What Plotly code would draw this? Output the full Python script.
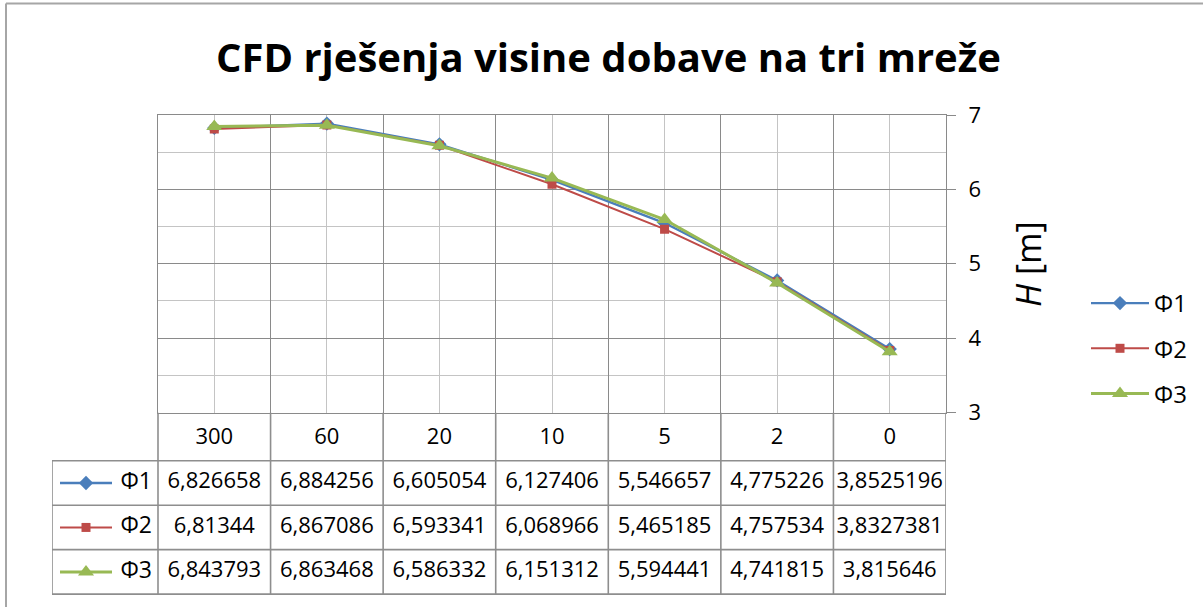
import plotly.graph_objects as go

# ---- data -------------------------------------------------------------
categories = ["300", "60", "20", "10", "5", "2", "0"]
phi1 = [6.826658, 6.884256, 6.605054, 6.127406, 5.546657, 4.775226, 3.8525196]
phi2 = [6.81344, 6.867086, 6.593341, 6.068966, 5.465185, 4.757534, 3.8327381]
phi3 = [6.843793, 6.863468, 6.586332, 6.151312, 5.594441, 4.741815, 3.815646]
series_names = ["Φ1", "Φ2", "Φ3"]
y_range = [3, 7]

title_text = "CFD rješenja visine dobave na tri mreže"
y_title = "<i>H</i> [m]"

# ---- styling ----------------------------------------------------------
W, H = 1203, 607
FONT = "Open Sans, Noto Sans, Liberation Sans, sans-serif"
colors = ["#4a7ebb", "#be4b48", "#98b954"]
symbols = ["diamond", "square", "triangle-up"]
msizes = [11, 9, 14]
lwidths = [2.3, 2.0, 3]
GRID_MAJOR = "#8a8a8a"
GRID_MINOR = "#c4c4c4"
TABLE_LINE = "#8e8e8e"

# pixel layout of the chart
PLOT_L, PLOT_R, PLOT_T, PLOT_B = 158, 946, 115, 412.5
TABLE_L, TABLE_B = 52, 595
HEADER_B = 461


def fx(p):
    return p / W


def fy(p):
    return 1 - p / H


n = len(categories)
xpos = list(range(n))
unit_px = (PLOT_R - PLOT_L) / n            # pixels per category column
table_left = -0.5 - (PLOT_L - TABLE_L) / unit_px

# table rows: header at 0, series rows at 1..3
rows = list(range(1, len(series_names) + 1))
row_h = (TABLE_B - HEADER_B) / len(rows)
header_top = 0.5 - (HEADER_B - PLOT_B) / row_h
row_bottom = rows[-1] + 0.5

fig = go.Figure()

all_series = [phi1, phi2, phi3]

# ---- main line chart --------------------------------------------------
for name, vals, c, s, ms, lw in zip(series_names, all_series, colors, symbols, msizes, lwidths):
    fig.add_trace(go.Scatter(
        x=xpos, y=vals, name=name, mode="lines+markers",
        line=dict(color=c, width=lw),
        marker=dict(symbol=s, size=ms, color=c),
        legendgroup=name, xaxis="x", yaxis="y",
    ))

# ---- data table -------------------------------------------------------
# header row: category labels
fig.add_trace(go.Scatter(
    x=xpos, y=[0] * n, text=categories, mode="text",
    textfont=dict(family=FONT, size=22, color="#000000"),
    xaxis="x2", yaxis="y2", showlegend=False, hoverinfo="skip", cliponaxis=False,
))

# value rows
for r, vals in zip(rows, all_series):
    fig.add_trace(go.Scatter(
        x=xpos, y=[r] * n, text=[repr(v).replace(".", ",") for v in vals],
        mode="text", textfont=dict(family=FONT, size=22, color="#000000"),
        xaxis="x2", yaxis="y2", showlegend=False, hoverinfo="skip", cliponaxis=False,
    ))

# legend keys in the first column
key_a = table_left + 8 / unit_px
key_b = table_left + 60 / unit_px
key_text = table_left + 100 / unit_px
for r, name, c, s, ms, lw in zip(rows, series_names, colors, symbols, msizes, lwidths):
    fig.add_trace(go.Scatter(
        x=[key_a, key_b], y=[r, r], mode="lines", line=dict(color=c, width=lw),
        xaxis="x2", yaxis="y2", showlegend=False, hoverinfo="skip", cliponaxis=False,
    ))
    fig.add_trace(go.Scatter(
        x=[(key_a + key_b) / 2], y=[r], mode="markers",
        marker=dict(symbol=s, size=ms, color=c),
        xaxis="x2", yaxis="y2", showlegend=False, hoverinfo="skip", cliponaxis=False,
    ))
    fig.add_trace(go.Scatter(
        x=[key_text], y=[r], text=[name], mode="text", textposition="middle left",
        textfont=dict(family=FONT, size=23, color="#000000"),
        xaxis="x2", yaxis="y2", showlegend=False, hoverinfo="skip", cliponaxis=False,
    ))

# table borders
shapes = []
line_style = dict(color=TABLE_LINE, width=1.6)
for b in [r + 0.5 for r in [0] + rows]:
    shapes.append(dict(type="line", xref="x2", yref="y2", x0=table_left, x1=n - 0.5,
                       y0=b, y1=b, line=line_style))
for k in range(n + 1):
    xb = k - 0.5
    shapes.append(dict(type="line", xref="x2", yref="y2", x0=xb, x1=xb,
                       y0=header_top, y1=row_bottom, line=line_style))
shapes.append(dict(type="line", xref="x2", yref="y2", x0=table_left, x1=table_left,
                   y0=0.5, y1=row_bottom, line=line_style))

# chart-area frame (top and left edges)
frame = dict(color="#a6a6a6", width=2)
shapes.append(dict(type="line", xref="paper", yref="paper", x0=fx(6), x1=1,
                   y0=fy(3.5), y1=fy(3.5), line=frame))
shapes.append(dict(type="line", xref="paper", yref="paper", x0=fx(6), x1=fx(6),
                   y0=0, y1=fy(3.5), line=frame))

fig.update_layout(
    width=W, height=H, autosize=False,
    margin=dict(l=0, r=0, t=0, b=0, pad=0, autoexpand=False),
    paper_bgcolor="white", plot_bgcolor="white",
    font=dict(family=FONT, size=22, color="#000000"),
    showlegend=True,
    legend=dict(
        x=fx(1086), y=fy(281), xanchor="left", yanchor="top",
        font=dict(family=FONT, size=24, color="#000000"),
        tracegroupgap=11, bgcolor="rgba(0,0,0,0)", itemwidth=58,
    ),
    xaxis=dict(
        domain=[fx(PLOT_L), fx(PLOT_R)], range=[-0.5, n - 0.5],
        showticklabels=False, ticks="", zeroline=False, automargin=False,
        tick0=-0.5, dtick=1, showgrid=True, gridcolor=GRID_MAJOR, gridwidth=1,
        minor=dict(tick0=0, dtick=1, showgrid=True, gridcolor=GRID_MINOR, gridwidth=1),
        showline=True, linecolor=GRID_MAJOR, linewidth=1.2, mirror=True,
        fixedrange=True,
    ),
    yaxis=dict(
        domain=[fy(PLOT_B), fy(PLOT_T)], range=y_range, side="right",
        tick0=3, dtick=1, ticks="outside", ticklen=9, tickcolor=GRID_MAJOR,
        ticklabelstandoff=8, automargin=False,
        tickfont=dict(family=FONT, size=22, color="#000000"),
        showgrid=True, gridcolor=GRID_MAJOR, gridwidth=1,
        minor=dict(dtick=0.5, showgrid=True, gridcolor=GRID_MINOR, gridwidth=1),
        showline=True, linecolor=GRID_MAJOR, linewidth=1.2, mirror=True,
        zeroline=False, fixedrange=True,
    ),
    xaxis2=dict(
        domain=[fx(TABLE_L), fx(PLOT_R)], range=[table_left, n - 0.5],
        anchor="y2", visible=False, fixedrange=True, automargin=False,
    ),
    yaxis2=dict(
        domain=[fy(TABLE_B), fy(PLOT_B)], range=[row_bottom + 0.02, header_top],
        anchor="x2", visible=False, fixedrange=True, automargin=False,
    ),
    shapes=shapes,
    annotations=[
        dict(text="<b>" + title_text + "</b>", xref="paper", yref="paper",
             x=fx(608), y=fy(57), xanchor="center", yanchor="middle", showarrow=False,
             font=dict(family=FONT, size=40, color="#000000")),
        dict(text=y_title, xref="paper", yref="paper", x=fx(1028), y=fy(264),
             xanchor="center", yanchor="middle", textangle=-90, showarrow=False,
             font=dict(family=FONT, size=34, color="#000000")),
    ],
)

fig.write_html("out.html")
